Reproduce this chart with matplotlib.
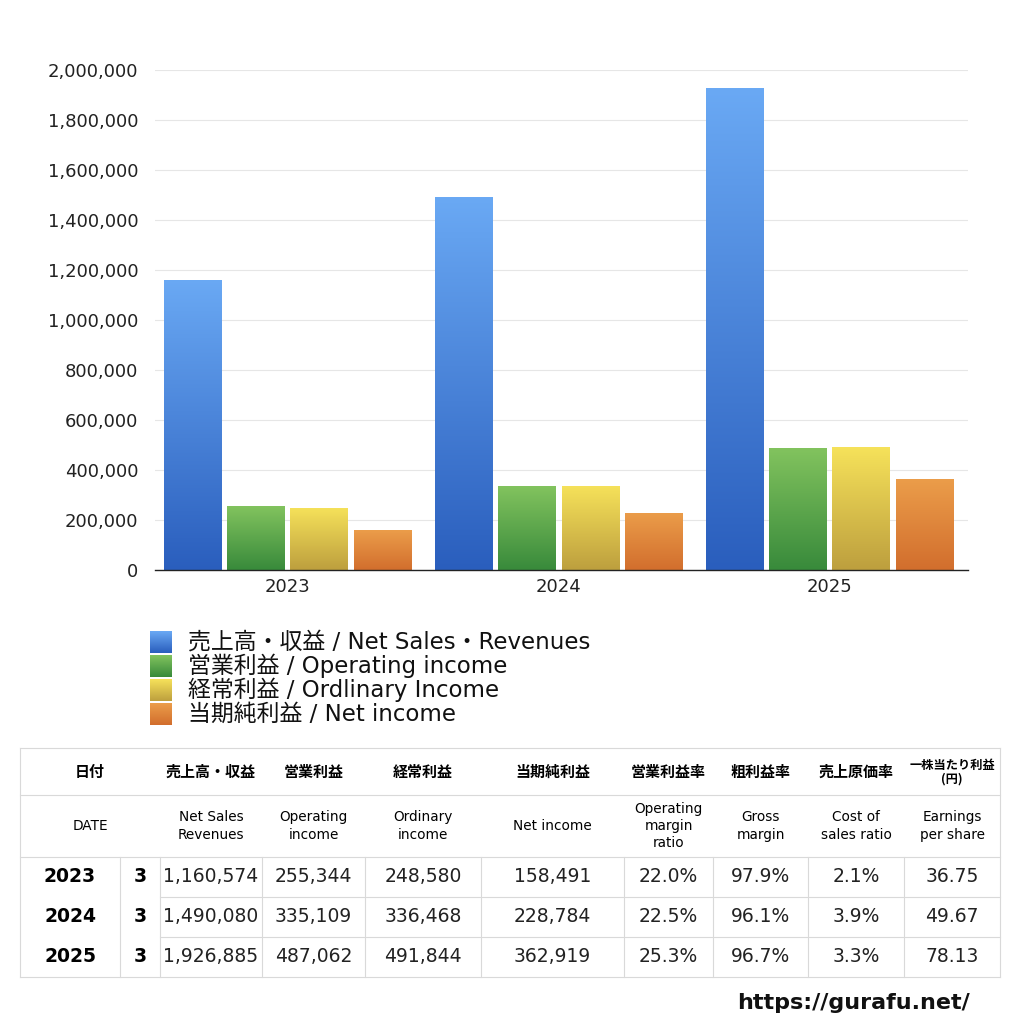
import numpy as np
import matplotlib.pyplot as plt
from matplotlib.colors import LinearSegmentedColormap
from matplotlib.ticker import FuncFormatter

plt.rcParams['font.family'] = ['DejaVu Sans', 'Noto Sans CJK JP']
JP = ['Noto Sans CJK JP', 'DejaVu Sans']

years = ['2023', '2024', '2025']
months = ['3', '3', '3']
net_sales = [1160574, 1490080, 1926885]
operating_income = [255344, 335109, 487062]
ordinary_income = [248580, 336468, 491844]
net_income = [158491, 228784, 362919]
op_margin = ['22.0%', '22.5%', '25.3%']
gross_margin = ['97.9%', '96.1%', '96.7%']
cost_ratio = ['2.1%', '3.9%', '3.3%']
eps = ['36.75', '49.67', '78.13']

legend_labels = ['売上高・収益 / Net Sales・Revenues', '営業利益 / Operating income',
                 '経常利益 / Ordlinary Income', '当期純利益 / Net income']
header_jp = ['日付', '', '売上高・収益', '営業利益', '経常利益', '当期純利益',
             '営業利益率', '粗利益率', '売上原価率', '一株当たり利益\n(円)']
header_en = ['DATE', '', 'Net Sales\nRevenues', 'Operating\nincome', 'Ordinary\nincome',
             'Net income', 'Operating\nmargin\nratio', 'Gross\nmargin', 'Cost of\nsales ratio',
             'Earnings\nper share']

# gradient colours: (top, bottom)
grads = [('#6aa9f4', '#2a5ebd'), ('#82c35e', '#388a3b'),
         ('#f6e25a', '#bd9f3e'), ('#eb9d4a', '#d26e2d')]

fig = plt.figure(figsize=(10.24, 10.24), dpi=100)
ax = fig.add_axes([155 / 1024, 1 - 570 / 1024, 813 / 1024, 500 / 1024])

series = [net_sales, operating_income, ordinary_income, net_income]
x = np.arange(len(years))
w = 0.214
step = 0.234
for i, vals in enumerate(series):
    cmap = LinearSegmentedColormap.from_list('g%d' % i, [grads[i][1], grads[i][0]])
    bars = ax.bar(x + (i - 1.5) * step, vals, w, color='none', edgecolor='none', zorder=2)
    for b in bars:
        x0, y0 = b.get_x(), b.get_y()
        bw, bh = b.get_width(), b.get_height()
        grad = np.linspace(0, 1, 256).reshape(-1, 1)
        im = ax.imshow(grad, cmap=cmap, origin='lower', aspect='auto',
                       extent=[x0, x0 + bw, y0, y0 + bh], zorder=2)
        im.set_clip_path(b)

ax.set_xlim(-0.49, 2.51)
ax.set_ylim(0, 2000000)
ax.set_xticks(x)
ax.set_xticklabels(years)
ax.set_yticks(np.arange(0, 2000001, 200000))
ax.yaxis.set_major_formatter(FuncFormatter(lambda v, p: f'{int(v):,}'))
ax.tick_params(axis='both', length=0, labelsize=13, colors='#222222')
ax.tick_params(axis='y', pad=12)
ax.tick_params(axis='x', pad=6)
ax.grid(axis='y', color='#e6e6e6', linewidth=0.8, zorder=0)
ax.set_axisbelow(True)
for s in ['top', 'right', 'left']:
    ax.spines[s].set_visible(False)
ax.spines['bottom'].set_color('#222222')
ax.spines['bottom'].set_linewidth(1.0)

# overlay in pixel coordinates for legend and table
ov = fig.add_axes([0, 0, 1, 1])
ov.axis('off')

# legend
for i, lab in enumerate(legend_labels):
    yc = 642 + i * 24
    cmap = LinearSegmentedColormap.from_list('l%d' % i, [grads[i][0], grads[i][1]])
    grad = np.linspace(0, 1, 64).reshape(-1, 1)
    ov.imshow(grad, cmap=cmap, aspect='auto', extent=[150, 172, yc + 11, yc - 11], zorder=2)
    ov.text(188, yc, lab, fontsize=16.5, va='center', ha='left', color='#111111')
ov.set_xlim(0, 1024)
ov.set_ylim(1024, 0)

# table
col_x = [20, 120, 160, 262, 365, 481, 624, 713, 808, 904, 1000]
row_y = [748, 795, 857, 897, 937, 977]
lc = '#d9d9d9'
lw = 0.8
for yy in [748, 795, 857, 977]:
    ov.plot([20, 1000], [yy, yy], color=lc, lw=lw)
ov.plot([20, 20], [748, 977], color=lc, lw=lw)
ov.plot([1000, 1000], [748, 977], color=lc, lw=lw)
for yy in row_y[3:5]:
    ov.plot([160, 1000], [yy, yy], color=lc, lw=lw)
for xx in col_x[1:-1]:
    ov.plot([xx, xx], [857, 977], color=lc, lw=lw)

# header rows
ov.text(90, 772, header_jp[0], ha='center', va='center', fontsize=10.8,
        fontweight='bold', family=JP)
ov.text(90, 826, header_en[0], ha='center', va='center', fontsize=9.8)
for c in range(2, 10):
    cx = (col_x[c] + col_x[c + 1]) / 2
    fs = 8.8 if c == 9 else 10.8
    ov.text(cx, 772, header_jp[c], ha='center', va='center', fontsize=fs,
            fontweight='bold', linespacing=1.1, family=JP)
    ov.text(cx, 826, header_en[c], ha='center', va='center', fontsize=9.8,
            linespacing=1.3)

# data rows
cols = [net_sales, operating_income, ordinary_income, net_income]
for r in range(3):
    cy = (row_y[r + 2] + row_y[r + 3]) / 2
    ov.text(70, cy, years[r], ha='center', va='center', fontsize=13.5, fontweight='bold')
    ov.text(140, cy, months[r], ha='center', va='center', fontsize=13.5, fontweight='bold')
    vals = [f'{cols[0][r]:,}', f'{cols[1][r]:,}', f'{cols[2][r]:,}', f'{cols[3][r]:,}',
            op_margin[r], gross_margin[r], cost_ratio[r], eps[r]]
    for c, v in enumerate(vals):
        cx = (col_x[c + 2] + col_x[c + 3]) / 2
        ov.text(cx, cy, v, ha='center', va='center', fontsize=13.5, color='#222222')

ov.text(970, 1003, 'https://gurafu.net/', ha='right', va='center', fontsize=16,
        fontweight='bold', color='#111111')

fig.savefig('out.png', dpi=100)
